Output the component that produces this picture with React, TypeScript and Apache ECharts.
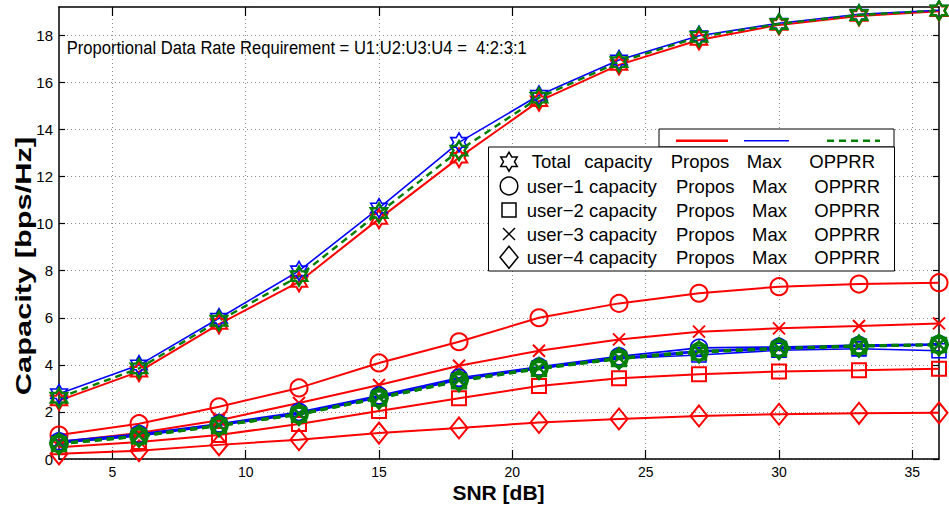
import React, { useEffect, useRef } from "react";
import * as echarts from "echarts";

// SNR sample points [dB]
const snr = [3, 6, 9, 12, 15, 18, 21, 24, 27, 30, 33, 36];
const xTicks = [5, 10, 15, 20, 25, 30, 35];
const yTicks = [0, 2, 4, 6, 8, 10, 12, 14, 16, 18];

// Total capacity [bps/Hz]
const totalPropos = [2.48, 3.71, 5.73, 7.52, 10.2, 12.8, 15.2, 16.74, 17.8, 18.44, 18.82, 19.02];
const totalMax = [2.77, 3.99, 5.98, 7.99, 10.66, 13.45, 15.45, 16.95, 17.98, 18.51, 18.89, 19.06];
const totalOpprr = [2.6, 3.85, 5.87, 7.77, 10.45, 13.1, 15.35, 16.86, 17.93, 18.48, 18.86, 19.05];

// Per-user capacity, proposed scheme
const user1Propos = [1.02, 1.5, 2.22, 3.02, 4.08, 4.98, 6.0, 6.61, 7.04, 7.32, 7.43, 7.49];
const user2Propos = [0.5, 0.72, 1.02, 1.49, 2.04, 2.58, 3.1, 3.43, 3.6, 3.72, 3.77, 3.83];
const user3Propos = [0.72, 1.1, 1.65, 2.38, 3.14, 3.96, 4.6, 5.08, 5.41, 5.55, 5.65, 5.76];
const user4Propos = [0.22, 0.35, 0.6, 0.82, 1.1, 1.32, 1.55, 1.7, 1.83, 1.9, 1.94, 1.96];

// Per-user capacity, Max scheme
const user1Max = [0.75, 1.06, 1.5, 2.0, 2.7, 3.45, 3.92, 4.36, 4.72, 4.76, 4.84, 4.88];
const user2Max = [0.68, 0.98, 1.44, 1.9, 2.6, 3.36, 3.85, 4.27, 4.42, 4.62, 4.68, 4.6];
const user3Max = [0.72, 1.02, 1.47, 1.95, 2.65, 3.4, 3.88, 4.3, 4.6, 4.72, 4.8, 4.86];
const user4Max = [0.7, 1.0, 1.46, 1.93, 2.62, 3.38, 3.86, 4.25, 4.55, 4.68, 4.78, 4.84];

// Per-user capacity, OPPRR scheme
const user1Opprr = [0.66, 0.98, 1.43, 1.9, 2.6, 3.34, 3.86, 4.28, 4.56, 4.7, 4.8, 4.86];
const user2Opprr = [0.63, 0.95, 1.4, 1.88, 2.57, 3.3, 3.82, 4.25, 4.52, 4.68, 4.78, 4.84];
const user3Opprr = [0.67, 0.99, 1.44, 1.92, 2.62, 3.35, 3.87, 4.3, 4.58, 4.71, 4.82, 4.87];
const user4Opprr = [0.64, 0.96, 1.41, 1.89, 2.58, 3.32, 3.84, 4.27, 4.55, 4.69, 4.8, 4.85];

const legendRows = [
  "user−1 capacity",
  "user−2 capacity",
  "user−3 capacity",
  "user−4 capacity",
];

const RED = "#ff0000";
const BLUE = "#0000ff";
const GREEN = "#008000";
const FONT = '"Liberation Sans", Arial, Helvetica, sans-serif';

// six-pointed star outline (12 vertices), point up
function hexagramPoints(cx: number, cy: number, R: number): number[][] {
  const r = R / Math.sqrt(3);
  const pts: number[][] = [];
  for (let k = 0; k < 12; k++) {
    const a = ((90 + 30 * k) * Math.PI) / 180;
    const rad = k % 2 === 0 ? R : r;
    pts.push([cx + rad * Math.cos(a), cy - rad * Math.sin(a)]);
  }
  return pts;
}

const hexagramSymbol =
  "path://" +
  hexagramPoints(10, 10, 10)
    .map((p, i) => (i === 0 ? "M" : "L") + p[0].toFixed(3) + "," + p[1].toFixed(3))
    .join("") +
  "Z";
const crossSymbol = "path://M0,0L10,10M10,0L0,10";

type Marker = { symbol: string; size: number | number[] };
const STAR: Marker = { symbol: hexagramSymbol, size: 19 };
const CIRCLE: Marker = { symbol: "circle", size: 17 };
const SQUARE: Marker = { symbol: "rect", size: 14 };
const CROSS: Marker = { symbol: crossSymbol, size: 12 };
const DIAMOND: Marker = { symbol: "diamond", size: [17, 21] };

function lineSeries(
  name: string,
  values: number[],
  color: string,
  marker: Marker,
  width: number,
  dashed: boolean
) {
  return {
    name,
    type: "line",
    data: snr.map((x, i) => [x, values[i]]),
    symbol: marker.symbol,
    symbolSize: marker.size,
    symbolKeepAspect: true,
    showSymbol: true,
    lineStyle: { color, width, type: dashed ? [7, 5] : "solid" },
    itemStyle: { color: "transparent", borderColor: color, borderWidth: width },
    emphasis: { disabled: true },
  };
}

export default function App() {
  const ref = useRef<HTMLDivElement>(null);

  useEffect(() => {
    if (!ref.current) return;
    const chart = echarts.init(ref.current, undefined, { renderer: "svg" });

    const series = [
      lineSeries("Total Propos", totalPropos, RED, STAR, 2, false),
      lineSeries("user-1 Propos", user1Propos, RED, CIRCLE, 2, false),
      lineSeries("user-2 Propos", user2Propos, RED, SQUARE, 2, false),
      lineSeries("user-3 Propos", user3Propos, RED, CROSS, 2, false),
      lineSeries("user-4 Propos", user4Propos, RED, DIAMOND, 2, false),
      lineSeries("Total Max", totalMax, BLUE, STAR, 1.6, false),
      lineSeries("user-1 Max", user1Max, BLUE, CIRCLE, 1.6, false),
      lineSeries("user-2 Max", user2Max, BLUE, SQUARE, 1.6, false),
      lineSeries("user-3 Max", user3Max, BLUE, CROSS, 1.6, false),
      lineSeries("user-4 Max", user4Max, BLUE, DIAMOND, 1.6, false),
      lineSeries("Total OPPRR", totalOpprr, GREEN, STAR, 2.4, true),
      lineSeries("user-1 OPPRR", user1Opprr, GREEN, CIRCLE, 2.4, true),
      lineSeries("user-2 OPPRR", user2Opprr, GREEN, SQUARE, 2.4, true),
      lineSeries("user-3 OPPRR", user3Opprr, GREEN, CROSS, 2.4, true),
      lineSeries("user-4 OPPRR", user4Opprr, GREEN, DIAMOND, 2.4, true),
    ];

    const axisLine = { show: true, onZero: false, lineStyle: { color: "#000", width: 1.5 } };
    const gridLine = { show: true, lineStyle: { color: "#8c8c8c", width: 1, type: [1, 3] } };

    // legend box drawn as graphic elements
    const Z = 20;
    const lx = 509;
    const rowsY = [161.7, 186, 210, 234, 257.3];
    const legendText = (text: string, x: number, y: number) => ({
      type: "text",
      z: Z + 1,
      x,
      y,
      style: {
        text,
        fill: "#000",
        font: `18.5px ${FONT}`,
        align: "left",
        verticalAlign: "middle",
      },
    });
    const stroke = { stroke: "#000", lineWidth: 1.5, fill: "none" };

    const graphic: any[] = [
      // line-style key box
      {
        type: "rect",
        z: Z,
        shape: { x: 659, y: 129, width: 235, height: 18 },
        style: { fill: "#fff", stroke: "#000", lineWidth: 1 },
      },
      {
        type: "line",
        z: Z + 1,
        shape: { x1: 676, y1: 140.7, x2: 728, y2: 140.7 },
        style: { stroke: RED, lineWidth: 2.5 },
      },
      {
        type: "line",
        z: Z + 1,
        shape: { x1: 744, y1: 140.7, x2: 789, y2: 140.7 },
        style: { stroke: BLUE, lineWidth: 1.6 },
      },
      {
        type: "line",
        z: Z + 1,
        shape: { x1: 827, y1: 140.7, x2: 880, y2: 140.7 },
        style: { stroke: GREEN, lineWidth: 2.5, lineDash: [7, 5] },
      },
      // marker key box
      {
        type: "rect",
        z: Z,
        shape: { x: 488.5, y: 147, width: 406, height: 124 },
        style: { fill: "#fff", stroke: "#000", lineWidth: 1 },
      },
      {
        type: "polygon",
        z: Z + 1,
        shape: { points: hexagramPoints(lx, rowsY[0], 9.5) },
        style: stroke,
      },
      {
        type: "circle",
        z: Z + 1,
        shape: { cx: lx, cy: rowsY[1], r: 8.8 },
        style: stroke,
      },
      {
        type: "rect",
        z: Z + 1,
        shape: { x: lx - 7, y: rowsY[2] - 7, width: 14, height: 14 },
        style: stroke,
      },
      {
        type: "line",
        z: Z + 1,
        shape: { x1: lx - 6, y1: rowsY[3] - 6, x2: lx + 6, y2: rowsY[3] + 6 },
        style: stroke,
      },
      {
        type: "line",
        z: Z + 1,
        shape: { x1: lx + 6, y1: rowsY[3] - 6, x2: lx - 6, y2: rowsY[3] + 6 },
        style: stroke,
      },
      {
        type: "polygon",
        z: Z + 1,
        shape: {
          points: [
            [lx, rowsY[4] - 11],
            [lx + 9, rowsY[4]],
            [lx, rowsY[4] + 11],
            [lx - 9, rowsY[4]],
          ],
        },
        style: stroke,
      },
      legendText("Total", 531.7, rowsY[0]),
      legendText("capacity", 584.3, rowsY[0]),
      legendText("Propos", 670.7, rowsY[0]),
      legendText("Max", 746.7, rowsY[0]),
      legendText("OPPRR", 809.3, rowsY[0]),
      ...legendRows.flatMap((label, i) => [
        legendText(label, 526.7, rowsY[i + 1]),
        legendText("Propos", 676, rowsY[i + 1]),
        legendText("Max", 752, rowsY[i + 1]),
        legendText("OPPRR", 814.3, rowsY[i + 1]),
      ]),
      // annotation
      {
        type: "text",
        z: Z,
        x: 66.7,
        y: 47.5,
        scaleY: 1.12,
        style: {
          text: "Proportional Data Rate Requirement = U1:U2:U3:U4 =  4:2:3:1",
          fill: "#000",
          font: `16.6px ${FONT}`,
          align: "left",
          verticalAlign: "middle",
        },
      },
      // axis titles
      {
        type: "text",
        z: Z,
        x: 24,
        y: 266,
        rotation: Math.PI / 2,
        scaleX: 1.4,
        style: {
          text: "Capacity [bps/Hz]",
          fill: "#000",
          font: `bold 22px ${FONT}`,
          align: "center",
          verticalAlign: "middle",
        },
      },
      {
        type: "text",
        z: Z,
        x: 498.5,
        y: 492,
        style: {
          text: "SNR [dB]",
          fill: "#000",
          font: `bold 21px ${FONT}`,
          align: "center",
          verticalAlign: "middle",
        },
      },
    ];

    chart.setOption({
      animation: false,
      backgroundColor: "#fff",
      textStyle: { fontFamily: FONT },
      grid: { left: 59, right: 10, top: 7, bottom: 47, containLabel: false },
      xAxis: [
        {
          type: "value",
          min: 3,
          max: 36,
          position: "bottom",
          axisLine,
          axisTick: {
            show: true,
            inside: true,
            length: 9,
            customValues: xTicks,
            lineStyle: { color: "#000", width: 1.2 },
          },
          axisLabel: {
            show: true,
            customValues: xTicks,
            color: "#000",
            fontSize: 14,
            margin: 6,
            fontFamily: FONT,
          },
          splitLine: gridLine,
        },
        {
          type: "value",
          min: 3,
          max: 36,
          position: "top",
          axisLine,
          axisTick: {
            show: true,
            inside: true,
            length: 9,
            customValues: xTicks,
            lineStyle: { color: "#000", width: 1.2 },
          },
          axisLabel: { show: false },
          splitLine: { show: false },
        },
      ],
      yAxis: [
        {
          type: "value",
          min: 0,
          max: 19.2,
          position: "left",
          axisLine,
          axisTick: {
            show: true,
            inside: true,
            length: 6,
            customValues: yTicks,
            lineStyle: { color: "#000", width: 1.2 },
          },
          axisLabel: {
            show: true,
            customValues: yTicks,
            color: "#000",
            fontSize: 15,
            margin: 6,
            fontFamily: FONT,
          },
          splitLine: gridLine,
        },
        {
          type: "value",
          min: 0,
          max: 19.2,
          position: "right",
          axisLine,
          axisTick: {
            show: true,
            inside: true,
            length: 6,
            customValues: yTicks,
            lineStyle: { color: "#000", width: 1.2 },
          },
          axisLabel: { show: false },
          splitLine: { show: false },
        },
      ],
      series,
      graphic,
    });

    return () => chart.dispose();
  }, []);

  return (
    <div
      ref={ref}
      style={{ position: "fixed", left: 0, top: 0, width: 949, height: 506 }}
    />
  );
}
